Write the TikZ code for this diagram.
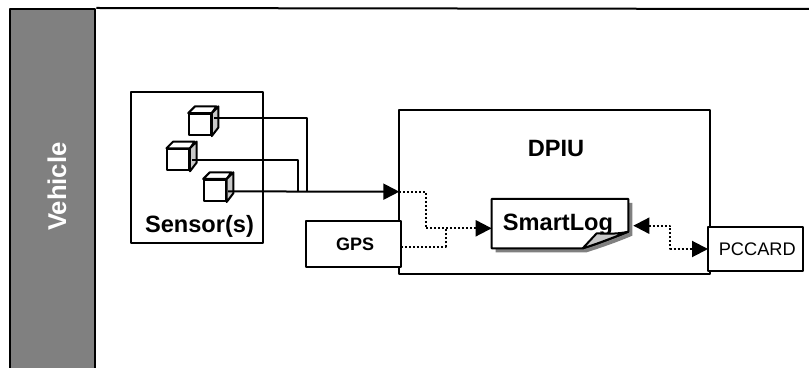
\documentclass[tikz,border=0pt]{standalone}
\usepackage{fontspec}
\setmainfont{Liberation Sans}
\usetikzlibrary{arrows.meta}

\tikzset{
  box/.style={draw=black,fill=white,line width=2bp,inner sep=0pt},
  boldtext/.style={draw=none,inner sep=0pt,anchor=base,font=\fontsize{#1bp}{#1bp}\selectfont\bfseries},
  wire/.style={black,line width=2bp},
  dotwire/.style={black,line width=2bp,dash pattern=on 2bp off 2bp},
  tip/.style={-{Triangle[length=16bp,width=16bp]}},
  tips/.style={{Triangle[length=16bp,width=16bp]}-{Triangle[length=16bp,width=16bp]}},
}
\definecolor{bandgrey}{HTML}{808080}
\definecolor{facegrey}{HTML}{C8C8C8}

% one sensor: front face is the node, the other faces hang off it
\newcommand{\sensorcube}[3]{%
  \node (#1) at (#2bp,#3bp) [box,minimum width=21.5bp,minimum height=21bp] {};
  \draw [wire,fill=white,line join=round] (#1.north west) -- ++(6.7bp,6.7bp) -- ++(21.5bp,0bp) -- (#1.north east) -- cycle;
  \draw [wire,fill=facegrey,line join=round] (#1.north east) -- ++(6.7bp,6.7bp) -- ++(0bp,-21bp) -- (#1.south east) -- cycle;
}

\begin{document}
\begin{tikzpicture}[>=latex,line join=bevel,]
\useasboundingbox (0bp,0bp) rectangle (809bp,368bp);
%%
\node (node_vehicle) at (52.75bp,176.5bp) [box,fill=bandgrey,minimum width=85bp,minimum height=365bp] {};
\node (node_vehiclename) at (66bp,181.3bp) [boldtext=25.7,text=white,rotate=90] {Vehicle};
\coordinate (frame_end) at (812bp,359bp);
\draw [wire] (node_vehicle.north east) -- (frame_end);
%%
\node (node_sensors) at (196.6bp,200.8bp) [box,minimum width=132.2bp,minimum height=151bp] {};
\node (node_sensorsname) at (199.5bp,135bp) [boldtext=23.6] {Sensor(s)};
\node (node_dpiu) at (554.5bp,176bp) [box,minimum width=310.4bp,minimum height=164bp] {};
\node (node_dpiuname) at (556bp,211.5bp) [boldtext=23.6] {DPIU};
\node (node_gps) at (353.3bp,124bp) [box,minimum width=95.3bp,minimum height=45.4bp,font=\fontsize{18bp}{18bp}\selectfont\bfseries] {\hspace*{3.5bp}GPS};
\node (node_pccard) at (755.5bp,119bp) [box,minimum width=95bp,minimum height=43.4bp,font=\fontsize{18.2bp}{18.2bp}\selectfont] {\hspace*{3.5bp}PCCARD};
%%
\sensorcube{cube_a}{200}{243.4}
\sensorcube{cube_b}{178.2}{208.2}
\sensorcube{cube_c}{214.9}{177.5}
%%
\fill [bandgrey] (495.7bp,165bp) -- (632.3bp,165bp) -- (632.3bp,132.3bp) .. controls (615bp,125bp) and (600bp,120bp) .. (586.7bp,115.7bp) -- (495.7bp,115.7bp) -- cycle;
\draw [wire,fill=white] (491.7bp,169bp) -- (628.3bp,169bp) -- (628.3bp,136.3bp) .. controls (612bp,130bp) and (597bp,124bp) .. (582.7bp,119.7bp) -- (491.7bp,119.7bp) -- cycle;
\node (node_smartlog) at (558bp,137bp) [boldtext=23.6] {SmartLog};
\draw [wire,fill=facegrey] (582.7bp,119.7bp) -- (596.7bp,134.7bp) .. controls (607bp,134bp) and (618bp,134bp) .. (628.3bp,136.3bp) .. controls (612bp,130bp) and (597bp,124bp) .. (582.7bp,119.7bp) -- cycle;
%%
\coordinate (cube_a_out) at (214bp,250.3bp);
\coordinate (cube_b_out) at (192bp,208bp);
\coordinate (cube_c_out) at (228bp,176.6bp);
\coordinate (join_a) at (307.3bp,176.3bp);
\coordinate (join_b) at (297.7bp,176.3bp);
\coordinate (dpiu_in) at (399.3bp,176.3bp);
\coordinate (dot_a) at (426bp,139.7bp);
\coordinate (dot_b) at (445.7bp,139.7bp);
\coordinate (gps_out) at (401bp,121.3bp);
\coordinate (smartlog_in) at (491.7bp,139.7bp);
\coordinate (smartlog_out) at (633.3bp,142.3bp);
\coordinate (dot_c) at (670bp,119bp);
\coordinate (pccard_in) at (708bp,119bp);
%%
\draw [wire] (cube_a_out) -| (join_a);
\draw [wire] (cube_b_out) -| (join_b);
\draw [wire,tip] (cube_c_out) -- (dpiu_in);
\draw [dotwire] (dpiu_in) -| (dot_a);
\draw [dotwire,tip] (dot_a) -- (smartlog_in);
\draw [dotwire] (gps_out) -| (dot_b);
\draw [dotwire,tips] (smartlog_out) -| (dot_c) -- (pccard_in);
%
\end{tikzpicture}
\end{document}
